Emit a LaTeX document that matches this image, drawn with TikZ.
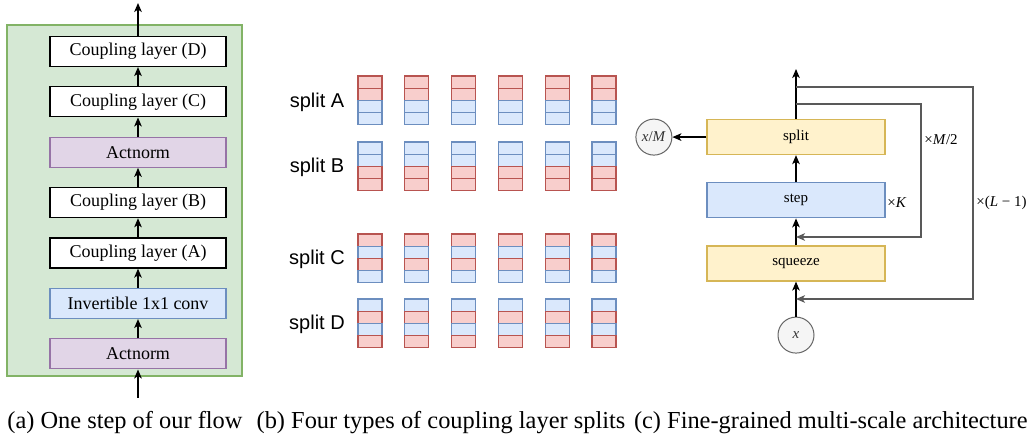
\documentclass[tikz,border=0pt]{standalone}
\usepackage{fontspec}
\setmainfont{Liberation Serif}
\setsansfont{Liberation Sans}
\usepackage{tikz}
\usetikzlibrary{arrows.meta,positioning}

\definecolor{greenF}{HTML}{D5E8D4}
\definecolor{greenD}{HTML}{82B366}
\definecolor{purpleF}{HTML}{E1D5E7}
\definecolor{purpleD}{HTML}{9673A6}
\definecolor{blueF}{HTML}{DAE8FC}
\definecolor{blueD}{HTML}{6C8EBF}
\definecolor{redF}{HTML}{F8CECC}
\definecolor{redD}{HTML}{B85450}
\definecolor{yellowF}{HTML}{FFF2CC}
\definecolor{yellowD}{HTML}{D6B656}
\definecolor{greyF}{HTML}{F5F5F5}
\definecolor{greyD}{HTML}{666666}

\begin{document}
\begin{tikzpicture}[
  x=0.5pt, y=-0.5pt,
  node distance=9.6pt,
  box/.style={rectangle, draw, line width=0.6pt, minimum width=88pt,
    minimum height=15pt, inner sep=0pt, font=\fontsize{9}{10}\selectfont},
  cbox/.style={rectangle, draw, line width=0.6pt, minimum width=89pt,
    minimum height=17.5pt, inner sep=0pt, font=\fontsize{7.5}{8}\selectfont},
  circ/.style={circle, draw=greyD, fill=greyF, line width=0.5pt, minimum size=18pt,
    inner sep=0pt, text=black!80, font=\fontsize{7.5}{8}\selectfont},
  arrow/.style={-{Stealth[length=4.5pt,width=3.8pt,inset=1.2pt]}, line width=0.6pt},
  loopline/.style={arrow, draw=black!65},
  redcell/.style={draw=redD, fill=redF, line width=0.6pt},
  bluecell/.style={draw=blueD, fill=blueF, line width=0.6pt},
  splitlabel/.style={font=\sffamily\fontsize{10}{12}\selectfont},
  mult/.style={anchor=west, inner sep=0pt, font=\fontsize{7.5}{8}\selectfont},
  caption/.style={inner sep=0pt, font=\fontsize{12.2}{14}\selectfont},
]
  \useasboundingbox (0,0) rectangle (1034,442);

  % (a) one step of the flow
  \draw[draw=greenD, fill=greenF, line width=0.6pt] (7,25) rectangle (242,376);
  \node[box, fill=white]                    (cplD) at (138,51.5) {Coupling layer (D)};
  \node[box, fill=white,   below=of cplD]   (cplC) {Coupling layer (C)};
  \node[box, draw=purpleD, fill=purpleF, below=of cplC] (actB) {Actnorm};
  \node[box, fill=white,   below=of actB]   (cplB) {Coupling layer (B)};
  \node[box, fill=white,   below=of cplB]   (cplA) {Coupling layer (A)};
  \node[box, draw=blueD, fill=blueF, below=of cplA]     (conv) {Invertible 1x1 conv};
  \node[box, draw=purpleD, fill=purpleF, below=of conv] (actA) {Actnorm};
  \coordinate (inA)  at (138,398);
  \coordinate (outA) at (138,3);

  \draw[arrow] (inA)  -- (actA);
  \draw[arrow] (actA) -- (conv);
  \draw[arrow] (conv) -- (cplA);
  \draw[arrow] (cplA) -- (cplB);
  \draw[arrow] (cplB) -- (actB);
  \draw[arrow] (actB) -- (cplC);
  \draw[arrow] (cplC) -- (cplD);
  \draw[arrow] (cplD) -- (outA);

  % (b) coupling layer splits
  \node[splitlabel] (lblA) at (317,102) {split A};
  \node[splitlabel] (lblB) at (317,167) {split B};
  \node[splitlabel] (lblC) at (317,259) {split C};
  \node[splitlabel] (lblD) at (317,324) {split D};
  \foreach \y/\pa/\pb/\pc/\pd in {76/redcell/redcell/bluecell/bluecell,
      142/bluecell/bluecell/redcell/redcell,
      234/redcell/bluecell/redcell/bluecell,
      299/bluecell/redcell/bluecell/redcell}
    \foreach \k in {0,...,5}
      \foreach \pat [count=\j from 0] in {\pa,\pb,\pc,\pd}
        \draw[\pat] (358+46.8*\k, \y+12.2*\j) rectangle ++(24,12.2);

  % (c) multi-scale architecture
  \node[cbox, draw=yellowD, fill=yellowF] (squeeze) at (796,263.5) {squeeze};
  \node[cbox, draw=blueD, fill=blueF, above=13.5pt of squeeze] (step) {step};
  \node[cbox, draw=yellowD, fill=yellowF, above=13.5pt of step] (split) {split};
  \node[circ, below=17.5pt of squeeze] (xin) {\textit{x}};
  \node[circ, left=17pt of split] (xout) {\textit{x}/\textit{M}};
  \coordinate (outC) at (796,69);
  \coordinate (kTop) at (796,104);
  \coordinate (kBot) at (921,237);
  \coordinate (lTop) at (796,87);
  \coordinate (lBot) at (973,299);

  \draw[arrow] (xin) -- (squeeze);
  \draw[arrow] (squeeze) -- (step);
  \draw[arrow] (step) -- (split);
  \draw[arrow] (split) -- (outC);
  \draw[arrow] (split) -- (xout);
  \draw[loopline] (kTop) -| (kBot) -- (kBot -| squeeze.north);
  \draw[loopline] (lTop) -| (lBot) -- (lBot -| xin.north);

  \node[mult] (nK) at (887,203) {×\textit{K}};
  \node[mult] (nM) at (924,140) {×\textit{M}/2};
  \node[mult] (nL) at (976,203) {×(\textit{L} − 1)};

  % captions
  \node[caption, anchor=west] (capA) at (7,423) {(a) One step of our flow};
  \node[caption] (capB) at (441,423) {(b) Four types of coupling layer splits};
  \node[caption, anchor=east] (capC) at (1028,423) {(c) Fine-grained multi-scale architecture};
\end{tikzpicture}
\end{document}
